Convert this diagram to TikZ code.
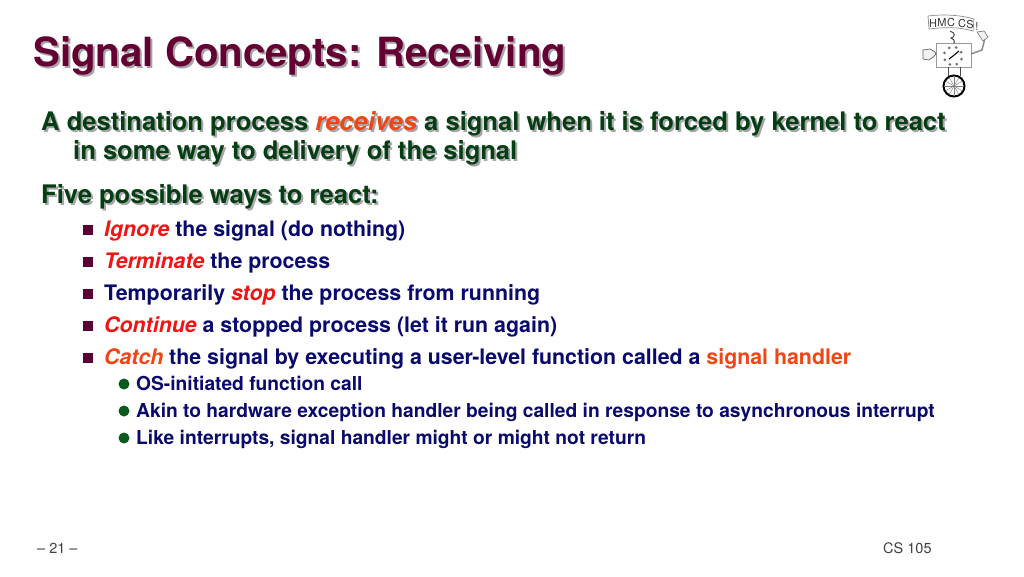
\documentclass[tikz,border=0pt]{standalone}
\usepackage{fontspec}
\setmainfont{TeX Gyre Heros}
\definecolor{titlec}{RGB}{100,0,50}
\definecolor{headc}{RGB}{5,62,18}
\definecolor{bodyc}{RGB}{10,10,110}
\definecolor{redc}{RGB}{240,20,20}
\definecolor{orc}{RGB}{240,70,20}
\definecolor{shadc}{RGB}{165,165,170}
\definecolor{sq}{RGB}{90,0,50}
\definecolor{dotc}{RGB}{10,90,30}
\newcommand\Cl[2]{\textcolor{#1}{#2}}
\newcommand\Bi[1]{\textbf{\textit{#1}}}
\newcommand\shtext[5]{% name, x, y, style, text
  \begingroup\renewcommand\Cl[2]{##2}%
  \node[txt,#4,text=shadc] (#1s) at (#2+2,#3+2) {#5};\endgroup
  \node[txt,#4] (#1) at (#2,#3) {#5};}
\tikzset{
  txt/.style={anchor=base west,inner sep=0pt,font=\bfseries},
  titlet/.style={text=titlec,font=\fontsize{40.2}{40}\selectfont\bfseries},
  headt/.style={text=headc,font=\fontsize{25.56}{25}\selectfont\bfseries},
  itemt/.style={text=bodyc,font=\fontsize{21.35}{21}\selectfont\bfseries},
  subt/.style={text=bodyc,font=\fontsize{19.22}{19}\selectfont\bfseries},
  foot/.style={anchor=base west,inner sep=0pt,text=black!75,font=\fontsize{14.5}{14}\selectfont},
  sqb/.style={fill=sq,draw=none,minimum size=10pt,inner sep=0pt},
  dotb/.style={fill=dotc,draw=none,circle,minimum size=11pt,inner sep=0pt},
  logo/.style={draw=black!70,line width=0.7pt},
  lett/.style={inner sep=0pt,text=black!80,font=\fontsize{11}{11}\selectfont},
}
\begin{document}
\begin{tikzpicture}[x=1pt,y=-1pt]
\useasboundingbox[fill=white] (0,0) rectangle (1024,576);
\shtext{title}{33}{66.5}{titlet}{Signal Concepts: Receiving}
\shtext{la}{41}{130}{headt}{A destination process \Cl{orc}{\Bi{receives}} a signal when it is forced by kernel to react}
\shtext{lb}{73}{159}{headt}{in some way to delivery of the signal}
\shtext{lc}{41}{203}{headt}{Five possible ways to react:}
\foreach \n/\y in {1/230,2/262,3/294,4/326,5/358}{\node[sqb] (b\n) at (87.5,\y) {};}
\node[txt,itemt] (i1) at (104,236) {\Cl{redc}{\Bi{Ignore}} the signal (do nothing)};
\node[txt,itemt] (i2) at (104,268) {\Cl{redc}{\Bi{Terminate}} the process};
\node[txt,itemt] (i3) at (104,300) {Temporarily \Cl{redc}{\Bi{stop}} the process from running};
\node[txt,itemt] (i4) at (104,332) {\Cl{redc}{\Bi{Continue}} a stopped process (let it run again)};
\node[txt,itemt] (i5) at (104,364) {\Cl{orc}{\Bi{Catch}} the signal by executing a user-level function called a \Cl{orc}{signal handler}};
\foreach \n/\y in {1/384,2/411,3/438}{\node[dotb] (d\n) at (124,\y) {};}
\node[txt,subt] (s1) at (136,390) {OS-initiated function call};
\node[txt,subt] (s2) at (136,417) {Akin to hardware exception handler being called in response to asynchronous interrupt};
\node[txt,subt] (s3) at (136,444) {Like interrupts, signal handler might or might not return};
\node[foot] (fl) at (37,553) {– 21 –};
\node[foot] (fr) at (883,553) {CS 105};
% logo
\draw[draw=black!45,line width=0.7pt,fill=white] (928,16) .. controls (945,14) and (960,15) .. (974,19) -- (973,31) .. controls (960,27) and (945,27) .. (929,29) -- cycle;
\node[lett] (l1) at (933,23.5) {H};
\node[lett] (l2) at (942,22.5) {M};
\node[lett] (l3) at (951,22) {C};
\node[lett] (l4) at (962,23) {C};
\node[lett] (l5) at (970,24) {S};
\node[lett] (lx) at (977,26) {!};
\draw[logo,line width=1pt] (950,31) .. controls (956,33) and (955,37) .. (951,38) .. controls (956,40) and (955,44) .. (951,45);
\draw[draw=black!40,line width=0.7pt,fill=white] (936,43) rectangle (971,67);
\draw[draw=black!60,line width=0.7pt,fill=black!5] (923,50) -- (930,49) -- (935,52) -- (936,54) -- (933,57) -- (929,60) -- (923,59) -- cycle;
\draw[black!45,line width=1.5pt] (971,54) -- (982,50) -- (985,38);
\draw[draw=black!50,line width=0.7pt,fill=black!5] (977,32) -- (984,31) -- (988,37) -- (983,41) -- cycle;
\foreach \a in {20,65,...,335}{\fill[black!55] (953,56)+(\a:9) circle (1.5);}
\draw[black,line width=1pt] (953,56) -- (959,51);
\draw[black,line width=1pt] (953,56) -- (949,59);
\draw[black,line width=2pt] (954,86) circle (10.5);
\foreach \a in {0,30,...,330}{\draw[black!50,line width=0.4pt] (954,86) -- +(\a:10);}
\draw[logo] (948,67) -- (948,76);
\draw[logo] (960,67) -- (960,76);
\end{tikzpicture}
\end{document}
